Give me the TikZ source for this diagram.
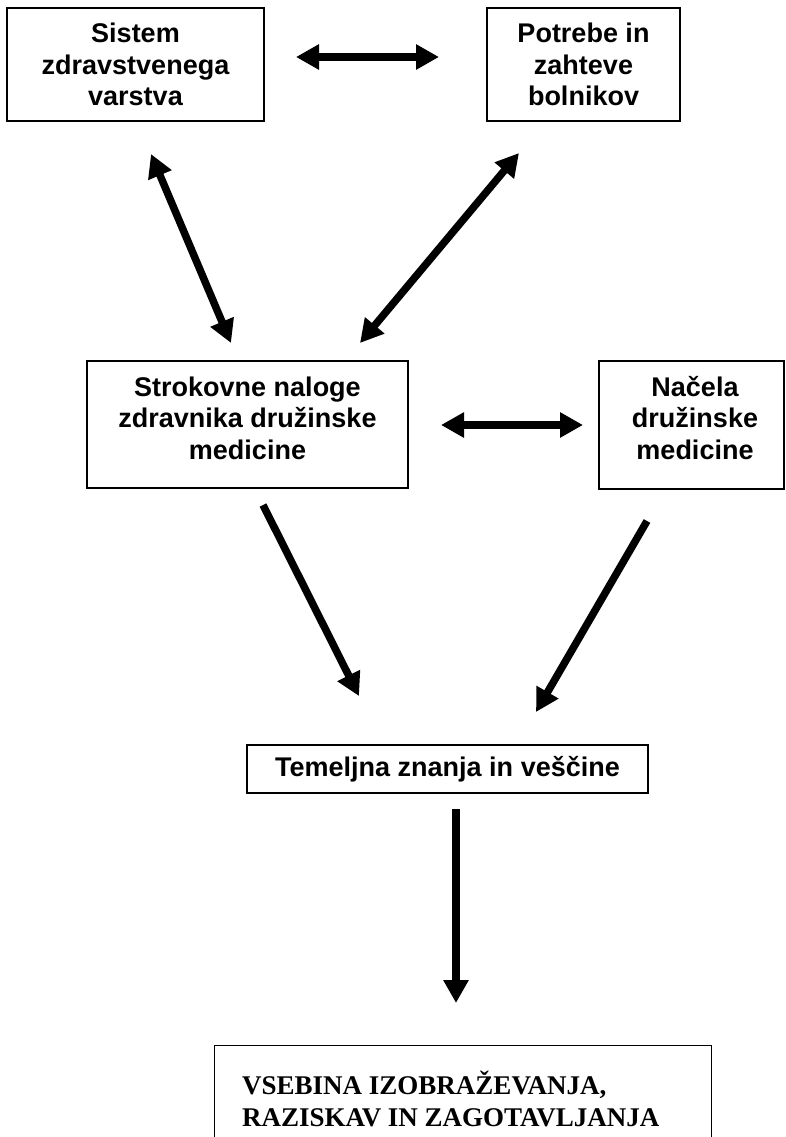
\documentclass[tikz,border=0pt]{standalone}
\usepackage{fontspec}
\setmainfont{Liberation Sans}
\newfontfamily\timesfont{Liberation Serif}
\usetikzlibrary{arrows.meta}
\begin{document}
\begin{tikzpicture}[x=1pt,y=-1pt,
  box/.style={draw, line width=1.3pt, inner sep=0pt},
  txt/.style={align=center, inner sep=0pt, font=\fontsize{27}{31.5}\selectfont\bfseries},
  dbl/.style={line width=8pt, {Triangle[width=24pt,length=23pt]}-{Triangle[width=24pt,length=23pt]}},
  sgl/.style={line width=7.5pt, -{Triangle[width=24pt,length=23pt]}}]
\useasboundingbox (0,0) rectangle (785,1137);
\clip (0,0) rectangle (785,1137);
% boxes
\node (b1) [box, txt, minimum width=257pt, minimum height=113pt] at (135.5,64.5) {Sistem\\zdravstvenega\\varstva};
\node (b2) [box, txt, minimum width=193pt, minimum height=113pt] at (583.5,64.5) {Potrebe in\\zahteve\\bolnikov};
\node (b3) [box, minimum width=321pt, minimum height=127pt] at (247.5,424.5) {};
\node (t3) [txt] at (247.5,418) {Strokovne naloge\\zdravnika družinske\\medicine};
\node (b4) [box, minimum width=185pt, minimum height=128pt] at (691.5,425) {};
\node (t4) [txt] at (695,418) {Načela\\družinske\\medicine};
\node (b5) [box, txt, minimum width=401pt, minimum height=48pt] at (447.5,769) {Temeljna znanja in veščine};
\node (b6) [box, minimum width=497pt, minimum height=160pt, anchor=north west] at (214,1045) {};
\node (t6) [align=left, inner sep=0pt, anchor=west, font=\fontsize{27}{31.5}\selectfont\timesfont\bfseries] at (242,1099) {VSEBINA IZOBRAŽEVANJA,\\RAZISKAV IN ZAGOTAVLJANJA};
% connector ends
\coordinate (p12a) at (296,57);  \coordinate (p12b) at (439,57);
\coordinate (p13a) at (151,154); \coordinate (p13b) at (231,343);
\coordinate (p23a) at (519,153); \coordinate (p23b) at (360,343);
\coordinate (p34a) at (441,425); \coordinate (p34b) at (583,425);
\coordinate (p35a) at (263,505); \coordinate (p35b) at (359,696);
\coordinate (p45a) at (647,521); \coordinate (p45b) at (536,712);
\coordinate (p56a) at (456,809); \coordinate (p56b) at (456,1003);
% connectors
\draw[dbl] (p12a) -- (p12b);
\draw[dbl, line width=7.5pt] (p13a) -- (p13b);
\draw[dbl, line width=7.5pt] (p23a) -- (p23b);
\draw[dbl] (p34a) -- (p34b);
\draw[sgl] (p35a) -- (p35b);
\draw[sgl] (p45a) -- (p45b);
\draw[sgl, line width=8pt] (p56a) -- (p56b);
\end{tikzpicture}
\end{document}
